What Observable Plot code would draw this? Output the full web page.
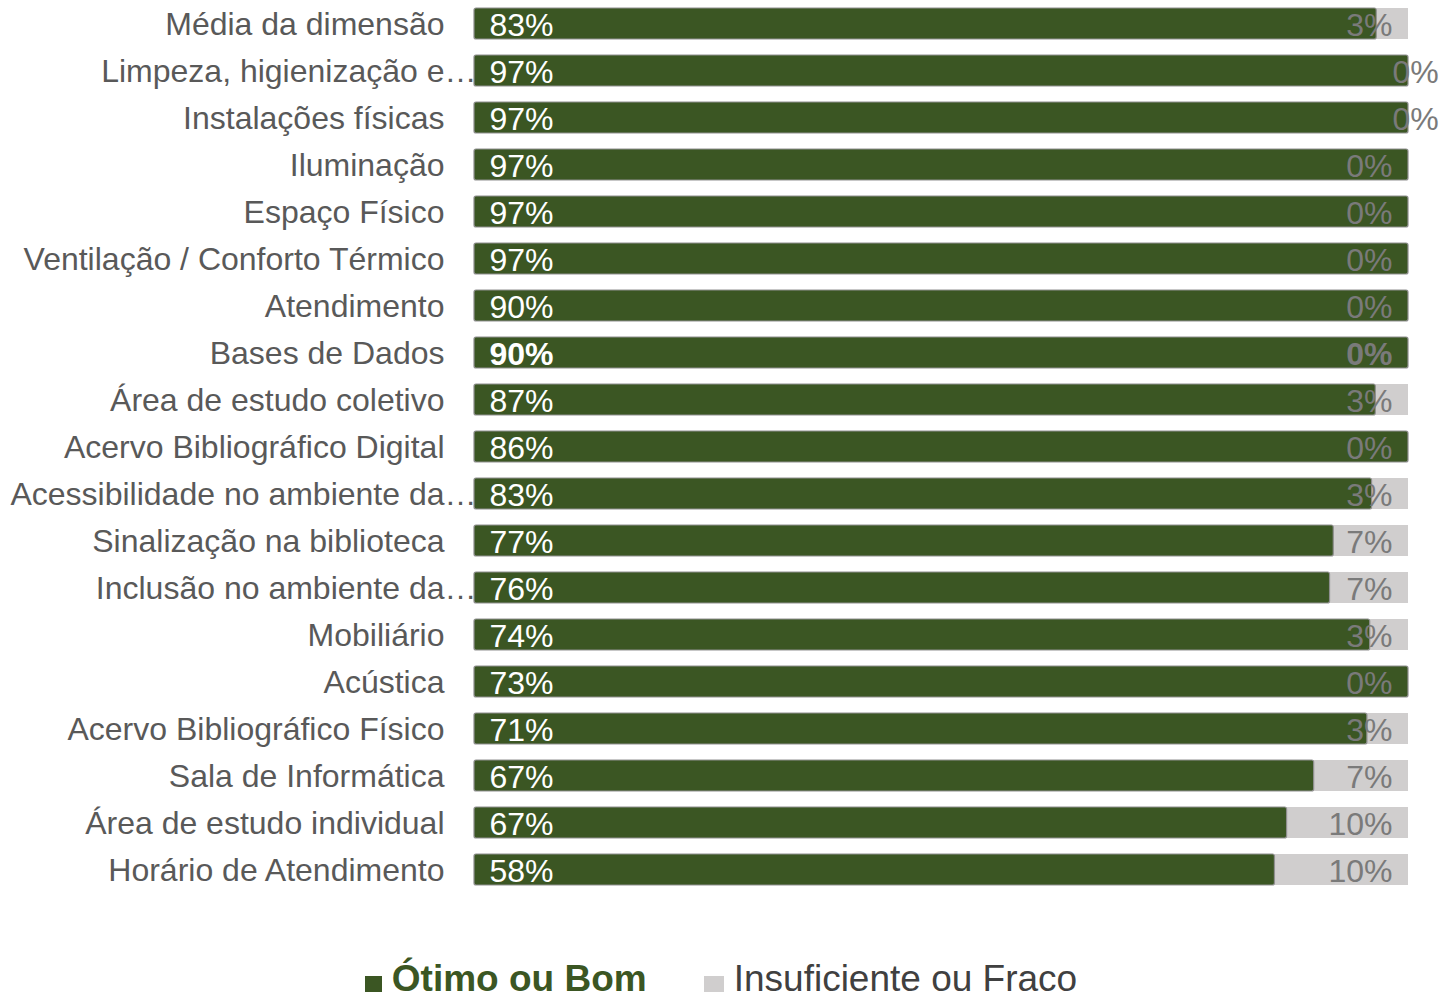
<!DOCTYPE html>
<html>
<head>
<meta charset="utf-8">
<script src="https://cdn.jsdelivr.net/npm/d3@7"></script>
<script src="https://cdn.jsdelivr.net/npm/@observablehq/plot@0.6"></script>
<style>
  html, body { margin: 0; padding: 0; background: #ffffff; }
  body { width: 1442px; height: 1000px; overflow: hidden; font-family: "Liberation Sans", Arial, sans-serif; }
  #legend { height: 90px; display: flex; justify-content: center; align-items: center; padding-top: 48px; box-sizing: border-box; }
  .item { display: flex; align-items: center; }
  .sw { width: 17px; height: 16px; margin-right: 10px; margin-top: 9px; }
  .lbl { font-size: 37px; line-height: 42px; }
</style>
</head>
<body>
<div id="chart"></div>
<div id="legend">
  <div class="item" style="margin-right:57px"><div class="sw" style="background:#3B5623"></div><span class="lbl" style="font-weight:bold;color:#3B5623">Ótimo ou Bom</span></div>
  <div class="item"><div class="sw" style="background:#D0CECE;width:20px"></div><span class="lbl" style="color:#404040">Insuficiente ou Fraco</span></div>
</div>
<script>
// Categories (top to bottom)
const categories = [
  "Média da dimensão",
  "Limpeza, higienização e…",
  "Instalações físicas",
  "Iluminação",
  "Espaço Físico",
  "Ventilação / Conforto Térmico",
  "Atendimento",
  "Bases de Dados",
  "Área de estudo coletivo",
  "Acervo Bibliográfico Digital",
  "Acessibilidade no ambiente da…",
  "Sinalização na biblioteca",
  "Inclusão no ambiente da…",
  "Mobiliário",
  "Acústica",
  "Acervo Bibliográfico Físico",
  "Sala de Informática",
  "Área de estudo individual",
  "Horário de Atendimento"
];
// Printed labels (%)
const otimoBom   = [83, 97, 97, 97, 97, 97, 90, 90, 87, 86, 83, 77, 76, 74, 73, 71, 67, 67, 58];
const insufFraco = [3, 0, 0, 0, 0, 0, 0, 0, 3, 0, 3, 7, 7, 3, 0, 3, 7, 10, 10];
// Bar lengths as drawn in the picture (% of full bar)
const greenShare = [96.6, 100, 100, 100, 100, 100, 100, 100, 96.5, 100, 96.1, 92.0, 91.6, 95.9, 100, 95.6, 89.9, 87.0, 85.7];
const grayShare  = [3.4, 0, 0, 0, 0, 0, 0, 0, 3.5, 0, 3.9, 8.0, 8.4, 4.1, 0, 4.4, 10.1, 13.0, 14.3];

const rows = categories.map((c, i) => ({
  cat: c, otimo: otimoBom[i], insuf: insufFraco[i], g: greenShare[i], gr: grayShare[i]
}));

const GREEN = "#3B5623", GRAY = "#D0CECE";
const FS = 32;
const font = "'Liberation Sans', Arial, sans-serif";
const bold = d => d.cat === "Bases de Dados";
const outside = d => d.cat === "Limpeza, higienização e…" || d.cat === "Instalações físicas";
const ellip = d => d.cat.endsWith("…");

const chart = Plot.plot({
  width: 1442,
  height: 910,
  marginLeft: 474,
  marginRight: 34,
  marginTop: 6.5,
  marginBottom: 23.5,
  x: { domain: [0, 100], axis: null },
  y: { domain: categories, axis: null, paddingInner: 0.34, paddingOuter: 0 },
  style: { fontFamily: font, background: "white" },
  marks: [
    Plot.barX(rows, { y: "cat", x1: d => d.g, x2: d => d.g + d.gr, fill: GRAY }),
    Plot.barX(rows, { y: "cat", x1: 0, x2: "g", fill: GREEN, stroke: "#8f8f8f", strokeWidth: 1.2, rx: 2 }),
    // category labels
    Plot.text(rows.filter(d => !ellip(d)), { y: "cat", text: "cat", frameAnchor: "left", textAnchor: "end", dx: -30, dy: 1, fontSize: FS, fill: "#595959" }),
    Plot.text(rows.filter(ellip), { y: "cat", text: "cat", frameAnchor: "left", textAnchor: "end", dx: 2, dy: 1, fontSize: FS, fill: "#595959" }),
    // green labels
    Plot.text(rows.filter(d => !bold(d)), { y: "cat", x: 0, text: d => d.otimo + "%", textAnchor: "start", dx: 15, dy: 2, fontSize: FS, fill: "white" }),
    Plot.text(rows.filter(bold), { y: "cat", x: 0, text: d => d.otimo + "%", textAnchor: "start", dx: 15, dy: 2, fontSize: FS, fill: "white", fontWeight: "bold" }),
    // gray labels
    Plot.text(rows.filter(d => !bold(d) && !outside(d)), { y: "cat", x: 100, text: d => d.insuf + "%", textAnchor: "end", dx: -16, dy: 2, fontSize: FS, fill: "#7a7a7a" }),
    Plot.text(rows.filter(bold), { y: "cat", x: 100, text: d => d.insuf + "%", textAnchor: "end", dx: -16, dy: 2, fontSize: FS, fill: "#7a7a7a", fontWeight: "bold" }),
    Plot.text(rows.filter(outside), { y: "cat", x: 100, text: d => d.insuf + "%", textAnchor: "start", dx: -16, dy: 2, fontSize: FS, fill: "#7a7a7a" })
  ]
});
document.getElementById("chart").appendChild(chart);
</script>
</body>
</html>
